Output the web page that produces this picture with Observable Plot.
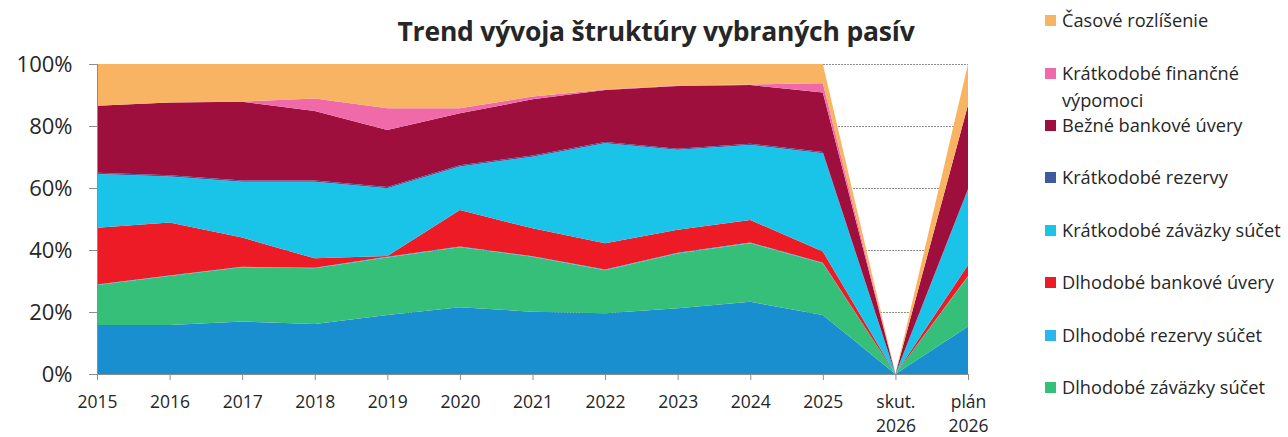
<!DOCTYPE html>
<html>
<head>
<meta charset="utf-8">
<script src="https://cdn.jsdelivr.net/npm/d3@7"></script>
<script src="https://cdn.jsdelivr.net/npm/@observablehq/plot@0.6"></script>
<style>
  html, body { margin: 0; padding: 0; background: #fff; }
  #wrap { position: relative; width: 1288px; height: 437px; font-family: "Open Sans", "Noto Sans", sans-serif; color: #262626; }
  #title { position: absolute; left: 356px; width: 600px; top: 13px; text-align: center; font-weight: bold; font-size: 26.5px; letter-spacing: -0.2px; line-height: 36px; }
  #legend { position: absolute; left: 1045px; top: 0; font-size: 18.2px; }
  .item { position: absolute; left: 0; white-space: nowrap; line-height: 27px; }
  .sw { display: inline-block; width: 11px; height: 11px; margin-right: 6px; vertical-align: 1px; }
  #chart { position: absolute; left: 0; top: 0; }
</style>
</head>
<body>
<div id="wrap">
  <div id="chart"></div>
  <div id="title">Trend vývoja štruktúry vybraných pasív</div>
  <div id="legend"></div>
</div>
<script>
// Categories (x axis)
const categories = ["2015","2016","2017","2018","2019","2020","2021","2022","2023","2024","2025","skut.\n2026","plán\n2026"];

// Series values (share of total, %), from bottom layer to top layer
const vlastneImanie            = [15.8, 15.8, 16.9, 16.1, 19.0, 21.5, 20.1, 19.6, 21.2, 23.3, 19.0, 0, 15.3];
const dlhodobeZavazkySucet     = [12.9, 15.8, 17.5, 18.0, 18.6, 19.4, 17.7, 13.9, 17.7, 18.9, 16.7, 0, 16.1];
const dlhodobeRezervySucet     = [0.2, 0.2, 0.2, 0.2, 0.2, 0.2, 0.2, 0.2, 0.2, 0.2, 0.2, 0, 0.2];
const dlhodobeBankoveUvery     = [18.3, 17.1, 9.4, 3.0, 0.3, 11.8, 9.0, 8.5, 7.4, 7.3, 3.6, 0, 3.6];
const kratkodobeZavazkySucet   = [17.3, 14.8, 18.0, 24.7, 21.8, 14.0, 23.1, 32.2, 25.8, 24.2, 31.7, 0, 24.2];
const kratkodobeRezervy        = [0.4, 0.4, 0.4, 0.4, 0.4, 0.4, 0.4, 0.4, 0.4, 0.4, 0.4, 0, 0.3];
const bezneBankoveUvery        = [21.6, 23.5, 25.4, 22.4, 18.4, 16.8, 18.1, 16.8, 20.2, 18.9, 19.2, 0, 27.1];
const kratkodobeFinVypomoci    = [0, 0, 0.1, 4.1, 7.0, 1.6, 0.9, 0.2, 0.2, 0.2, 3.0, 0, 0];
const casoveRozlisenie         = [13.5, 12.4, 12.1, 11.1, 14.3, 14.3, 10.5, 8.2, 6.9, 6.6, 6.2, 0, 13.2];

// Series names, bottom to top
const seriesNames = [
  "Vlastné imanie",
  "Dlhodobé záväzky súčet",
  "Dlhodobé rezervy súčet",
  "Dlhodobé bankové úvery",
  "Krátkodobé záväzky súčet",
  "Krátkodobé rezervy",
  "Bežné bankové úvery",
  "Krátkodobé finančné výpomoci",
  "Časové rozlíšenie"
];
const seriesValues = [vlastneImanie, dlhodobeZavazkySucet, dlhodobeRezervySucet, dlhodobeBankoveUvery,
  kratkodobeZavazkySucet, kratkodobeRezervy, bezneBankoveUvery, kratkodobeFinVypomoci, casoveRozlisenie];
const seriesColors = ["#1a8fd0", "#35bf78", "#2cb6ee", "#ec1b25", "#19c4e8", "#3f5a9e", "#9e0f3e", "#f06aaa", "#f9b463"];

// Legend entries (top to bottom as in the picture)
const legendNames = [
  "Časové rozlíšenie",
  "Krátkodobé finančné výpomoci",
  "Bežné bankové úvery",
  "Krátkodobé rezervy",
  "Krátkodobé záväzky súčet",
  "Dlhodobé bankové úvery",
  "Dlhodobé rezervy súčet",
  "Dlhodobé záväzky súčet"
];
const yTicks = [0, 20, 40, 60, 80, 100];

const rows = [];
seriesNames.forEach((s, i) => categories.forEach((c, j) => rows.push({x: c, series: s, value: seriesValues[i][j]})));

const chart = Plot.plot({
  width: 1288,
  height: 437,
  marginLeft: 97,
  marginRight: 320,
  marginTop: 64,
  marginBottom: 63,
  style: {fontFamily: "'Open Sans', 'Noto Sans', sans-serif", fontSize: "18px", color: "#262626", background: "transparent"},
  x: {type: "point", domain: categories, label: null, padding: 0, round: false},
  y: {domain: [0, 100], label: null},
  color: {domain: seriesNames, range: seriesColors},
  marks: [
    Plot.ruleY(yTicks.filter(d => d > 0), {stroke: "#8c8c8c", strokeWidth: 1.2, strokeDasharray: "2,1"}),
    Plot.areaY(rows, {x: "x", y: "value", z: "series", fill: "series", order: seriesNames, curve: "linear"}),
    Plot.axisY({ticks: yTicks, tickFormat: d => d + "%", tickSize: 8, tickPadding: 17, fontSize: 22, stroke: "#8c8c8c"}),
    Plot.ruleX([categories[0]], {stroke: "#8c8c8c"}),
    Plot.axisX({tickSize: 6, tickPadding: 10, fontSize: 17.5, stroke: "#8c8c8c", lineHeight: 1.4}),
    Plot.ruleY([0], {stroke: "#8c8c8c"})
  ]
});
document.getElementById("chart").appendChild(chart);

const tops = [20, 73, 125, 177, 230, 282, 335, 387];
const legend = document.getElementById("legend");
legendNames.forEach((n, i) => {
  const col = seriesColors[seriesNames.indexOf(n)];
  const div = document.createElement("div");
  div.className = "item";
  div.style.top = (tops[i] - 13.5) + "px";
  if (n === "Krátkodobé finančné výpomoci") {
    div.innerHTML = `<span class="sw" style="background:${col}"></span>Krátkodobé finančné<br><span style="padding-left:17px">výpomoci</span>`;
  } else {
    div.innerHTML = `<span class="sw" style="background:${col}"></span>${n}`;
  }
  legend.appendChild(div);
});
</script>
</body>
</html>
